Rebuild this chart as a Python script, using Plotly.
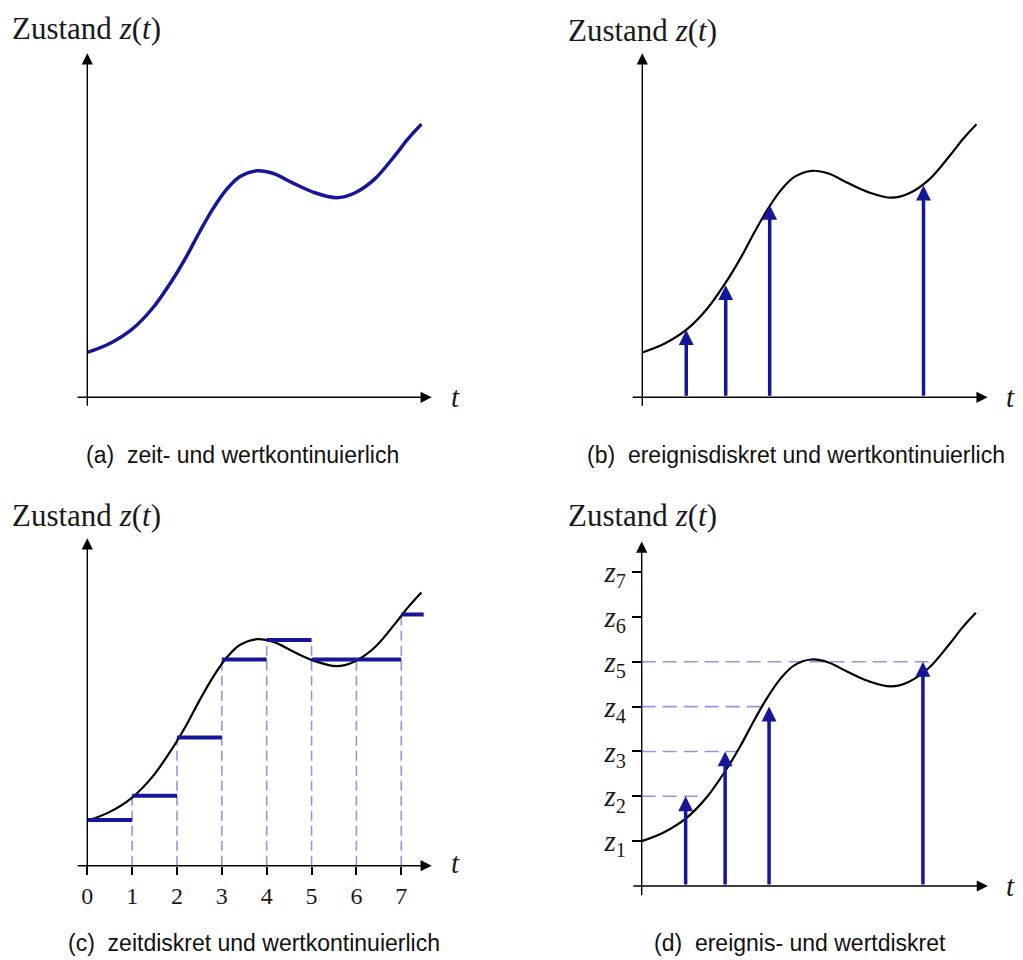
import plotly.graph_objects as go

OFF = 8                      # the page body margin of the browser
W, H = 1023 - OFF, 960 - OFF
S = 44.85                    # pixels per data unit

# ---- data ----
curve_t = [0, 0.5, 1.0, 1.45, 1.9, 2.2, 2.5, 2.8, 3.1, 3.4, 3.78, 4.15, 4.6, 5.05,
           5.56, 5.95, 6.4, 6.85, 7.15, 7.45]
curve_z = [1.0, 1.2, 1.52, 1.98, 2.62, 3.12, 3.68, 4.2, 4.63, 4.92, 5.05, 4.99, 4.77, 4.57,
           4.45, 4.55, 4.86, 5.38, 5.76, 6.09]

event_t = [0.98, 1.86, 2.84, 6.27]
event_z_cont = [1.5, 2.5, 4.29, 4.72]
event_z_disc = [2, 3, 4, 5]
dash_end_t = [1.37, 2.12, 2.71, 6.39]

sample_t = [0, 1, 2, 3, 4, 5, 6, 7]
sample_z = [1.02, 1.56, 2.86, 4.6, 5.03, 4.6, 4.6, 5.6]
last_step_end = 7.5

z_levels = [1, 2, 3, 4, 5, 6, 7]
z_labels = ["<i>z</i><sub>%d</sub>" % k for k in z_levels]

captions = ["(a)&nbsp; zeit- und wertkontinuierlich",
            "(b)&nbsp; ereignisdiskret und wertkontinuierlich",
            "(c)&nbsp; zeitdiskret und wertkontinuierlich",
            "(d)&nbsp; ereignis- und wertdiskret"]

# ---- layout geometry (pixel origin of each panel, data ranges) ----
panels = [
    dict(ox=87.3, oy=397.3, xr=[-0.25, 7.68], yr=[-0.22, 7.67]),
    dict(ox=642.3, oy=397.3, xr=[-0.25, 7.70], yr=[-0.22, 7.67]),
    dict(ox=87.3, oy=865.7, xr=[-0.25, 7.68], yr=[-0.17, 7.30]),
    dict(ox=641.7, oy=886.0, xr=[-0.22, 7.72], yr=[-0.24, 7.68]),
]


def px(x):
    return (x - OFF) / W


def py(y):
    return 1 - (y - OFF) / H


BLUE = "#16169a"
DASH = "rgba(60,60,200,0.55)"
SERIF = "Liberation Serif"
SANS = "Liberation Sans"
TXT = "#1a1a1a"

fig = go.Figure()
layout = dict(width=W, height=H, margin=dict(l=0, r=0, t=0, b=0),
              paper_bgcolor="white", plot_bgcolor="rgba(0,0,0,0)",
              showlegend=False)
annotations = []

for i, p in enumerate(panels):
    n = "" if i == 0 else str(i + 1)
    x0 = px(p["ox"] + p["xr"][0] * S)
    x1 = px(p["ox"] + p["xr"][1] * S)
    y0 = py(p["oy"] - p["yr"][0] * S)
    y1 = py(p["oy"] - p["yr"][1] * S)
    p["xref"], p["yref"] = "x" + n, "y" + n
    layout["xaxis" + n] = dict(domain=[x0, x1], range=p["xr"], showgrid=False,
                               zeroline=False, showline=False, showticklabels=False,
                               ticks="", anchor="y" + n, fixedrange=True)
    layout["yaxis" + n] = dict(domain=[y0, y1], range=p["yr"], showgrid=False,
                               zeroline=False, showline=False, showticklabels=False,
                               ticks="", anchor="x" + n, fixedrange=True)
    # axis arrows
    annotations.append(dict(x=p["xr"][1], y=0, ax=p["xr"][0], ay=0,
                            xref=p["xref"], yref=p["yref"], axref=p["xref"], ayref=p["yref"],
                            text="", showarrow=True, arrowhead=2, arrowsize=1.6,
                            arrowwidth=1.4, arrowcolor="black", standoff=0))
    annotations.append(dict(x=0, y=p["yr"][1], ax=0, ay=p["yr"][0],
                            xref=p["xref"], yref=p["yref"], axref=p["xref"], ayref=p["yref"],
                            text="", showarrow=True, arrowhead=2, arrowsize=1.6,
                            arrowwidth=1.4, arrowcolor="black", standoff=0))

# (c) ticks on the t axis
pc = panels[2]
layout["xaxis3"].update(tickvals=sample_t, ticktext=[str(v) for v in sample_t],
                        showticklabels=True, ticks="outside", ticklen=8, tickwidth=1.5,
                        tickcolor="black", anchor="free",
                        position=py(pc["oy"]),
                        tickfont=dict(family=SERIF, size=24, color=TXT))
# (d) ticks on the z axis
pd_ = panels[3]
layout["yaxis4"].update(tickvals=z_levels, ticktext=z_labels,
                        showticklabels=True, ticks="outside", ticklen=10, tickwidth=1.5,
                        tickcolor="black", anchor="free",
                        position=px(pd_["ox"]),
                        tickfont=dict(family=SERIF, size=29, color=TXT))

# (a) blue continuous curve
fig.add_trace(go.Scatter(x=curve_t, y=curve_z, mode="lines", xaxis="x", yaxis="y",
                         line=dict(color=BLUE, width=3.5, shape="spline", smoothing=1.0)))

# (b) black curve + event arrows
fig.add_trace(go.Scatter(x=curve_t, y=curve_z, mode="lines", xaxis="x2", yaxis="y2",
                         line=dict(color="black", width=2.2, shape="spline", smoothing=1.0)))
for t, z in zip(event_t, event_z_cont):
    annotations.append(dict(x=t, y=z, ax=t, ay=0, xref="x2", yref="y2", axref="x2", ayref="y2",
                            text="", showarrow=True, arrowhead=2, arrowsize=0.85,
                            arrowwidth=3.5, arrowcolor=BLUE, standoff=0))

# (c) dashed sample lines, step segments, black curve
for k in range(1, len(sample_t)):
    top = max(sample_z[k - 1], sample_z[k])
    fig.add_trace(go.Scatter(x=[sample_t[k], sample_t[k]], y=[0, top], mode="lines",
                             xaxis="x3", yaxis="y3",
                             line=dict(color=DASH, width=1.6, dash="10px,5px")))
fig.add_trace(go.Scatter(x=curve_t, y=curve_z, mode="lines", xaxis="x3", yaxis="y3",
                         line=dict(color="black", width=2.2, shape="spline", smoothing=1.0)))
ends = sample_t[1:] + [last_step_end]
for t0, t1, z in zip(sample_t, ends, sample_z):
    fig.add_trace(go.Scatter(x=[t0, t1], y=[z, z], mode="lines", xaxis="x3", yaxis="y3",
                             line=dict(color=BLUE, width=4)))

# (d) dashed level lines, black curve, event arrows
for z, te in zip(event_z_disc, dash_end_t):
    fig.add_trace(go.Scatter(x=[0, te], y=[z, z], mode="lines", xaxis="x4", yaxis="y4",
                             line=dict(color=DASH, width=1.6, dash="14px,7px")))
fig.add_trace(go.Scatter(x=curve_t, y=curve_z, mode="lines", xaxis="x4", yaxis="y4",
                         line=dict(color="black", width=2.2, shape="spline", smoothing=1.0)))
for t, z in zip(event_t, event_z_disc):
    annotations.append(dict(x=t, y=z, ax=t, ay=0, xref="x4", yref="y4", axref="x4", ayref="y4",
                            text="", showarrow=True, arrowhead=2, arrowsize=0.85,
                            arrowwidth=3.5, arrowcolor=BLUE, standoff=0))

# texts
title_pos = [(10, 28), (566, 30), (10, 515), (566, 515)]
t_pos = [(455, 397), (1010, 397), (455, 863), (1010, 886)]
cap_pos = [(242, 455), (796, 455), (254, 943), (800, 943)]
for (tx, ty), (lx, ly), (cx, cy), cap in zip(title_pos, t_pos, cap_pos, captions):
    annotations.append(dict(x=px(tx), y=py(ty), xref="paper", yref="paper",
                            text="Zustand <i>z</i>(<i>t</i>)", showarrow=False,
                            xanchor="left", yanchor="middle",
                            font=dict(family=SERIF, size=31, color=TXT)))
    annotations.append(dict(x=px(lx), y=py(ly), xref="paper", yref="paper",
                            text="<i>t</i>", showarrow=False,
                            xanchor="center", yanchor="middle",
                            font=dict(family=SERIF, size=29, color=TXT)))
    annotations.append(dict(x=px(cx), y=py(cy), xref="paper", yref="paper",
                            text=cap, showarrow=False,
                            xanchor="center", yanchor="middle",
                            font=dict(family=SANS, size=23, color="#111")))

layout["annotations"] = annotations
fig.update_layout(**layout)
fig.write_html("out.html")
